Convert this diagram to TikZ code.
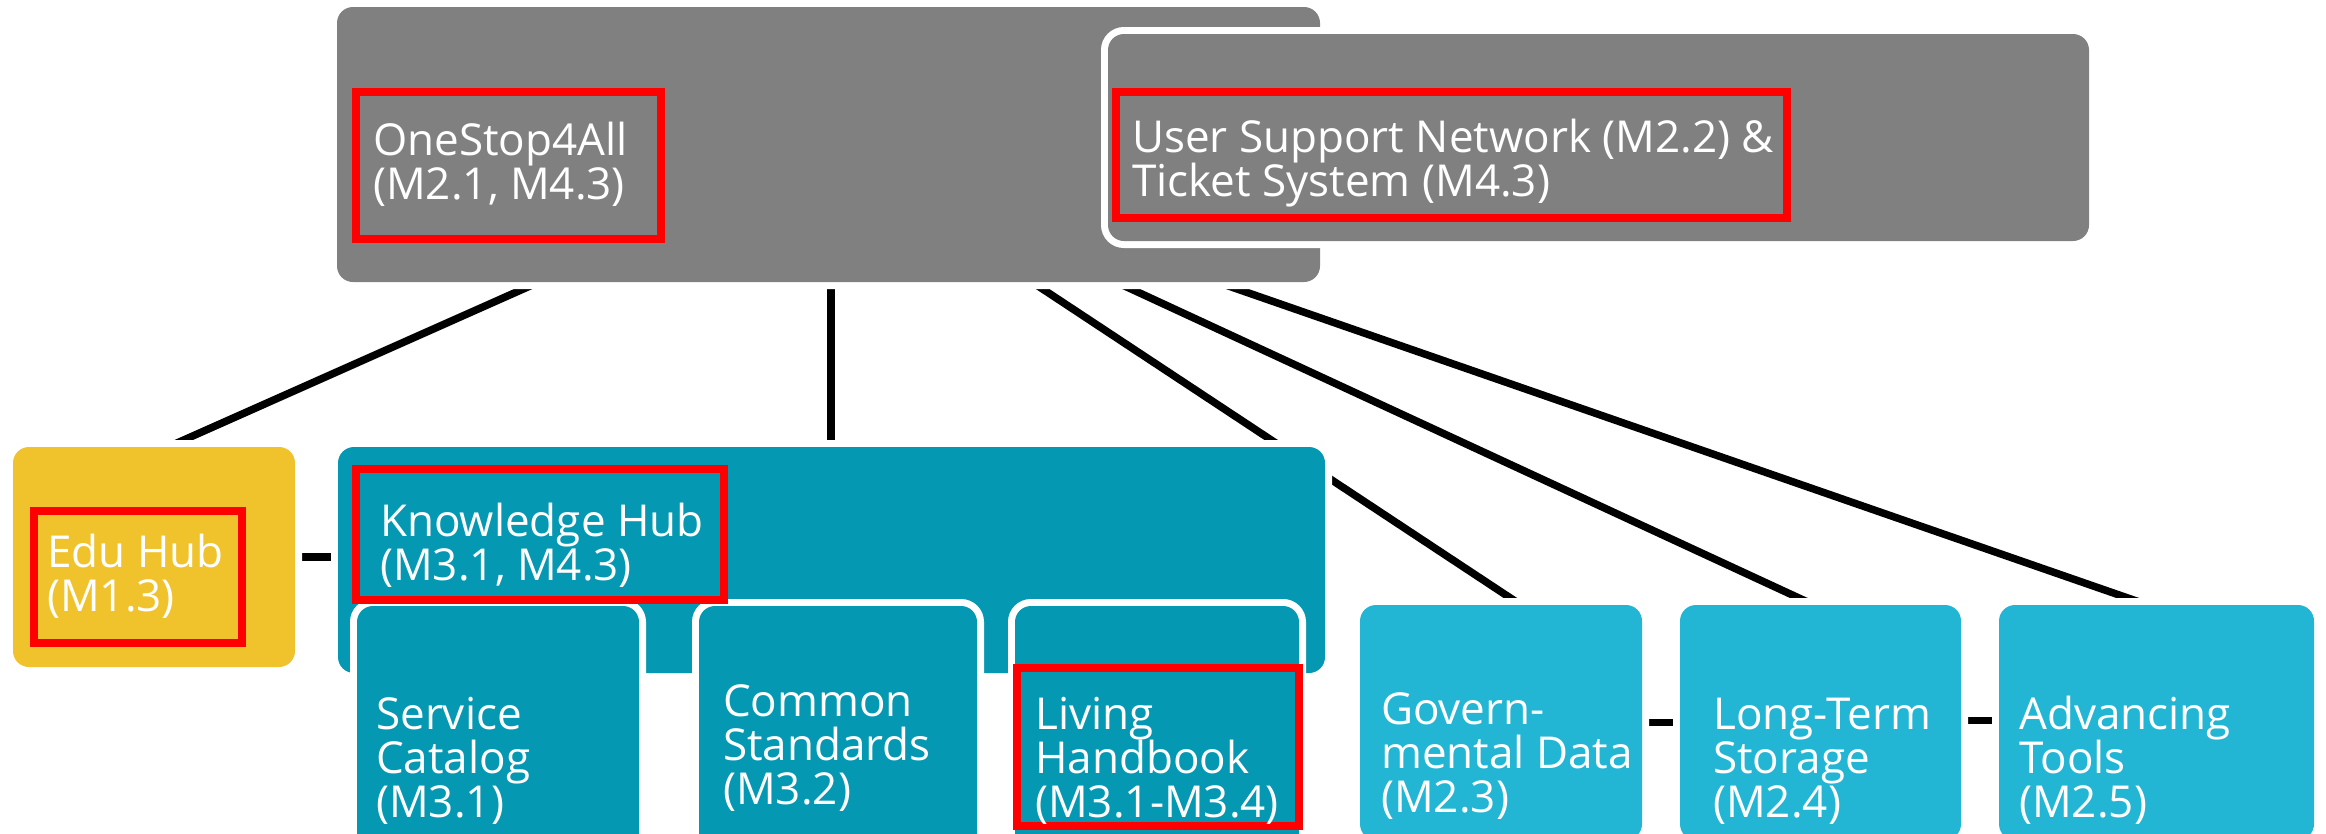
\documentclass[tikz,border=0pt]{standalone}
\usepackage{fontspec}
\setmainfont{Open Sans}
\usetikzlibrary{calc}
\pgfdeclarelayer{bg}
\pgfsetlayers{bg,main}
\definecolor{grayc}{HTML}{808080}
\definecolor{tealc}{HTML}{0598B2}
\definecolor{lightc}{HTML}{23B6D4}
\definecolor{yellowc}{HTML}{F0C22C}
\tikzset{
  box/.style={rectangle, rounded corners=16pt, inner sep=0pt, outer sep=0pt,
    preaction={draw=white, line width=14pt}},
  txt/.style={font=\fontsize{44}{44}\selectfont, text=white, align=left,
    anchor=base west, inner sep=0pt},
  conn/.style={draw=black, line width=7.5pt},
  redbox/.style={draw=red, line width=8pt}
}
\begin{document}
\begin{tikzpicture}[x=1pt,y=-1pt]
\useasboundingbox (0,0) rectangle (2326,833);
\clip (0,0) rectangle (2326,833);
% boxes
\node[box, fill=grayc, minimum width=983pt, minimum height=275pt] (top) at (828.5,144.5) {};
\node[box, fill=grayc, minimum width=981pt, minimum height=207pt] (user) at (1598.5,137.5) {};
\node[box, fill=yellowc, minimum width=282pt, minimum height=220pt] (edu) at (154,557) {};
\node[box, fill=tealc, minimum width=987pt, minimum height=226pt] (kh) at (831.5,560) {};
\node[box, fill=tealc, minimum width=282pt, minimum height=294pt] (sc) at (498,753) {};
\node[box, fill=tealc, minimum width=278pt, minimum height=294pt] (cs) at (838,753) {};
\node[box, fill=tealc, minimum width=284pt, minimum height=294pt] (lh) at (1157,753) {};
\node[box, fill=lightc, minimum width=282pt, minimum height=235pt] (gd) at (1501,722.5) {};
\node[box, fill=lightc, minimum width=281pt, minimum height=235pt] (lt) at (1820.5,722.5) {};
\node[box, fill=lightc, minimum width=315pt, minimum height=235pt] (at) at (2156.5,722.5) {};
% connectors
\begin{pgfonlayer}{bg}
\draw[conn] ([xshift=202pt]top.south west) -- ([xshift=155pt]edu.north west);
\draw[conn] ([xshift=494pt]top.south west) -- ([xshift=493pt]kh.north west);
\draw[conn] ([xshift=695pt]top.south west) -- ([xshift=161pt]gd.north west);
\draw[conn] ([xshift=779pt]top.south west) -- ([xshift=134pt]lt.north west);
\draw[conn] ([xshift=880pt]top.south west) -- ([xshift=149pt]at.north west);
\draw[conn] (edu.east) -- (edu.east -| kh.west);
\draw[conn] (gd.east) -- (lt.west);
\draw[conn] ([yshift=2pt]lt.east) -- ([yshift=2pt]at.west);
\end{pgfonlayer}
% red frames
\draw[redbox] (356,92) rectangle (661,239);
\draw[redbox] (1116,92) rectangle (1787,218);
\draw[redbox] (34,511) rectangle (242,643);
\draw[redbox] (356,469) rectangle (724,600);
\draw[redbox] (1017,668) rectangle (1299,826);
% texts (anchored at the baseline of the last line)
\node[txt] (tos) at (373,199) {OneStop4All\\(M2.1, M4.3)};
\node[txt] (tus) at (1132,196) {User Support Network (M2.2) \&\\Ticket System (M4.3)};
\node[txt] (tedu) at (47,611) {Edu Hub\\(M1.3)};
\node[txt] (tkh) at (380,580) {Knowledge Hub\\(M3.1, M4.3)};
\node[txt] (tsc) at (376,817) {Service\\Catalog\\(M3.1)};
\node[txt] (tcs) at (723,804) {Common\\Standards\\(M3.2)};
\node[txt] (tlh) at (1035,817) {Living\\Handbook\\(M3.1-M3.4)};
\node[txt] (tgd) at (1381,812) {Govern-\\mental Data\\(M2.3)};
\node[txt] (tlt) at (1713,817) {Long-Term\\Storage\\(M2.4)};
\node[txt] (tat) at (2019,817) {Advancing\\Tools\\(M2.5)};
\end{tikzpicture}
\end{document}
